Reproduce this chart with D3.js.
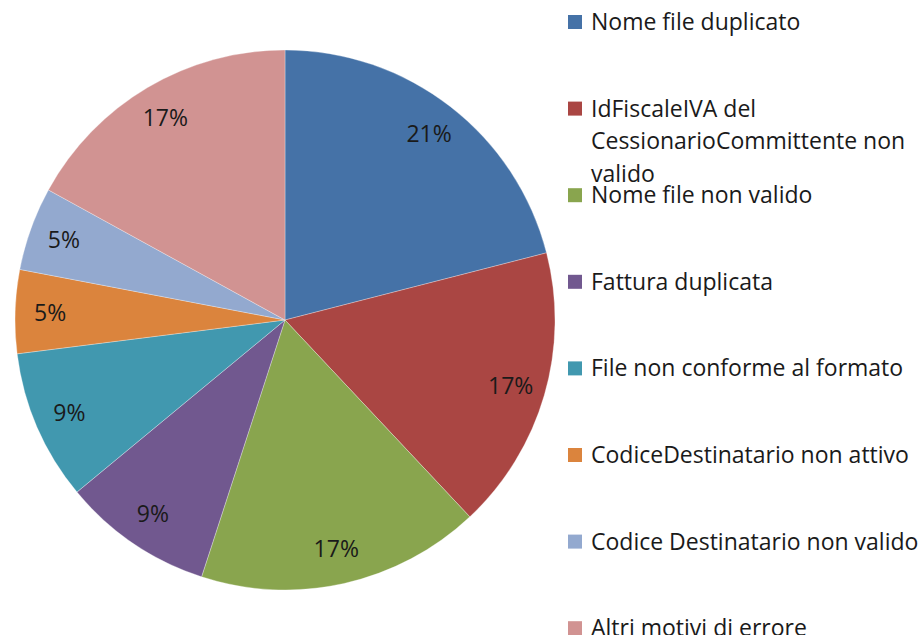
<!DOCTYPE html>
<html>
<head>
<meta charset="utf-8">
<script src="https://cdn.jsdelivr.net/npm/d3@7"></script>
<style>
  body { margin: 0; background: #fff; }
  text { font-family: "Open Sans", sans-serif; fill: #1a1a1a; }
</style>
</head>
<body>
<div id="pieChart"></div>
<script>
// Dati del grafico
const categories = [
  "Nome file duplicato",
  "IdFiscaleIVA del CessionarioCommittente non valido",
  "Nome file non valido",
  "Fattura duplicata",
  "File non conforme al formato",
  "CodiceDestinatario non attivo",
  "Codice Destinatario non valido",
  "Altri motivi di errore"
];
const values = [21, 17, 17, 9, 9, 5, 5, 17];
const colors = ["#4572A7", "#AA4643", "#89A54E", "#71588F", "#4198AF", "#DB843D", "#93A9CF", "#D19392"];

const width = 924;
const height = 635;
const radius = 270;
const cx = 285, cy = 320;

const svg = d3.select("#pieChart")
  .append("svg")
  .attr("width", width)
  .attr("height", height);

const g = svg.append("g")
  .attr("transform", `translate(${cx},${cy})`);

const color = d3.scaleOrdinal()
  .domain(categories)
  .range(colors);

const dataReady = categories.map((key, i) => ({ key, value: values[i] }));
const total = d3.sum(values);

const pie = d3.pie()
  .sort(null)
  .value(d => d.value);
const arcs = pie(dataReady);

const arcGenerator = d3.arc()
  .innerRadius(0)
  .outerRadius(radius);

const labelArc = d3.arc()
  .innerRadius(235)
  .outerRadius(235);

g.selectAll("path")
  .data(arcs)
  .enter()
  .append("path")
  .attr("d", arcGenerator)
  .attr("fill", d => color(d.data.key))
  .attr("stroke", "#fff")
  .attr("stroke-opacity", 0.5)
  .attr("stroke-width", 0.6);

// Etichette percentuali
g.selectAll("text.pct")
  .data(arcs)
  .enter()
  .append("text")
  .attr("class", "pct")
  .attr("transform", d => `translate(${labelArc.centroid(d)})`)
  .attr("text-anchor", "middle")
  .attr("dy", "0.35em")
  .style("font-size", "23px")
  .text(d => `${Math.round(d.data.value / total * 100)}%`);

// Legenda
const legend = svg.append("g")
  .attr("transform", "translate(568,22)");

const step = 86.6;
const maxWidth = 360;

const items = legend.selectAll("g")
  .data(dataReady)
  .enter()
  .append("g")
  .attr("transform", (d, i) => `translate(0,${i * step})`);

items.append("rect")
  .attr("x", 0)
  .attr("y", -7)
  .attr("width", 14)
  .attr("height", 14)
  .style("fill", d => color(d.key));

items.append("text")
  .attr("x", 23)
  .attr("y", 0)
  .style("font-size", "23px")
  .each(function(d) {
    // a capo automatico
    const t = d3.select(this);
    const words = d.key.split(" ");
    let line = [];
    let lineNo = 0;
    let tspan = t.append("tspan").attr("x", 23).attr("dy", "0.35em");
    words.forEach(w => {
      line.push(w);
      tspan.text(line.join(" "));
      if (tspan.node().getComputedTextLength() > maxWidth - 23 && line.length > 1) {
        line.pop();
        tspan.text(line.join(" "));
        line = [w];
        lineNo++;
        tspan = t.append("tspan").attr("x", 23).attr("y", lineNo * 32.5).attr("dy", "0.35em").text(w);
      }
    });
  });
</script>
</body>
</html>
